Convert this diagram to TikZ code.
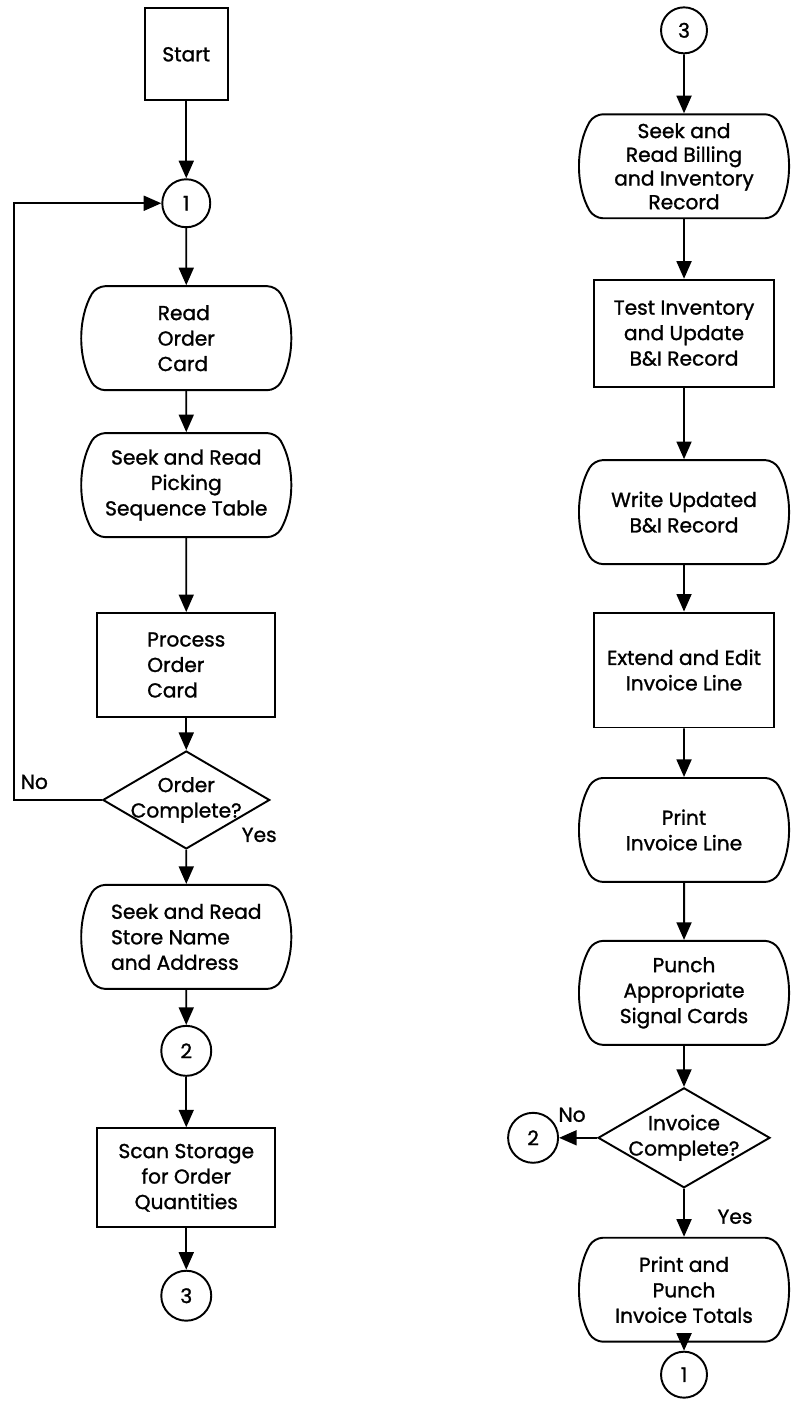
\documentclass[tikz,border=0pt]{standalone}
\usepackage{fontspec}
\setmainfont{Poppins}[BoldFont=Poppins,BoldFeatures={FakeBold=1.2}]
\usetikzlibrary{arrows.meta,shapes.geometric,shapes.misc}
\begin{document}
\begin{tikzpicture}[
    every node/.style={font=\fontsize{11.5}{14.5}\selectfont\bfseries},
    proc/.style={draw,line width=1.1pt,rectangle,minimum width=3.56cm,minimum height=2.08cm,inner sep=0pt,align=center},
    disk/.style={draw,line width=1.1pt,rounded rectangle,rounded rectangle arc length=60,rounded corners=5pt,minimum width=3.52cm,minimum height=2.08cm,inner sep=0pt,align=center},
    conn/.style={draw,line width=1.1pt,circle,minimum size=0.96cm,inner sep=0pt},
    test/.style={draw,line width=1.1pt,diamond,aspect=1.7,inner xsep=-0.5cm,inner ysep=0pt,align=center},
    arr/.style={line width=1.1pt,-{Triangle[width=8.5pt,length=10pt]}}]
                \draw[white] (0,0) rectangle (15.5,-28.46);
                \node[proc,minimum width=1.66cm,minimum height=1.84cm] (start) at (3.72,-1.08) {Start};
                \node[conn] (c1) at (3.72,-4.06) {1};
                \node[disk,align=left] (readcard) at (3.72,-6.76) {Read\\Order\\Card};
                \node[disk,minimum width=3.56cm] (seekpick) at (3.72,-9.70) {Seek and Read\\Picking\\Sequence Table};
                \node[proc,align=left] (proccard) at (3.72,-13.30) {Process\\Order\\Card};
                \node[test,minimum width=3.34cm,minimum height=1.96cm] (ordok) at (3.72,-16.0) {Order\\Complete?};
                \node[disk,align=left] (seekstore) at (3.72,-18.74) {Seek and Read\\Store Name\\and Address};
                \node[conn,minimum size=1cm] (c2) at (3.72,-21.02) {2};
                \node[proc,minimum height=1.98cm] (scan) at (3.72,-23.56) {Scan Storage\\for Order\\Quantities};
                \node[conn,minimum size=1cm] (c3) at (3.72,-25.92) {3};
                \node (no1) at (0.68,-15.64) {No};
                \node (yes1) at (5.18,-16.7) {Yes};
                \coordinate (back) at (0.28,-16.0);
                \draw[arr] (start) -- (c1);
                \draw[arr] (c1) -- (readcard);
                \draw[arr] (readcard) -- (seekpick);
                \draw[arr] (seekpick) -- (proccard);
                \draw[arr] (proccard) -- (ordok);
                \draw[arr] (ordok) -- (seekstore);
                \draw[arr] (seekstore) -- (c2);
                \draw[arr] (c2) -- (scan);
                \draw[arr] (scan) -- (c3);
                \draw[arr] (ordok.west) -- (back) |- (c1.west);
                \node[conn,minimum size=0.92cm] (r3) at (13.68,-0.6) {3};
                \node[disk,font=\fontsize{11.5}{13.5}\selectfont\bfseries] (seekbill) at (13.68,-3.32) {Seek and\\Read Billing\\and Inventory\\Record};
                \node[proc,minimum width=3.6cm,minimum height=2.14cm] (testinv) at (13.68,-6.66) {Test Inventory\\and Update\\B\&I Record};
                \node[disk] (writeb) at (13.68,-10.24) {Write Updated\\B\&I Record};
                \node[proc,minimum width=3.6cm,minimum height=2.3cm] (extend) at (13.68,-13.4) {Extend and Edit\\Invoice Line};
                \node[disk] (printline) at (13.68,-16.6) {Print\\Invoice Line};
                \node[disk] (punch) at (13.68,-19.86) {Punch\\Appropriate\\Signal Cards};
                \node[test,minimum width=3.44cm,minimum height=2cm] (invok) at (13.68,-22.76) {Invoice\\Complete?};
                \node[conn,minimum size=1cm] (r2) at (10.66,-22.76) {2};
                \node[disk] (printtot) at (13.68,-25.8) {Print and\\Punch\\Invoice Totals};
                \node[conn,minimum size=0.92cm] (r1) at (13.68,-27.5) {1};
                \node (no2) at (11.44,-22.3) {No};
                \node (yes2) at (14.7,-24.34) {Yes};
                \draw[arr] (r3) -- (seekbill);
                \draw[arr] (seekbill) -- (testinv);
                \draw[arr] (testinv) -- (writeb);
                \draw[arr] (writeb) -- (extend);
                \draw[arr] (extend) -- (printline);
                \draw[arr] (printline) -- (punch);
                \draw[arr] (punch) -- (invok);
                \draw[arr] (invok) -- (printtot);
                \draw[arr] (printtot) -- (r1);
                \draw[arr] (invok.west) -- (r2);
            \end{tikzpicture}
\end{document}
